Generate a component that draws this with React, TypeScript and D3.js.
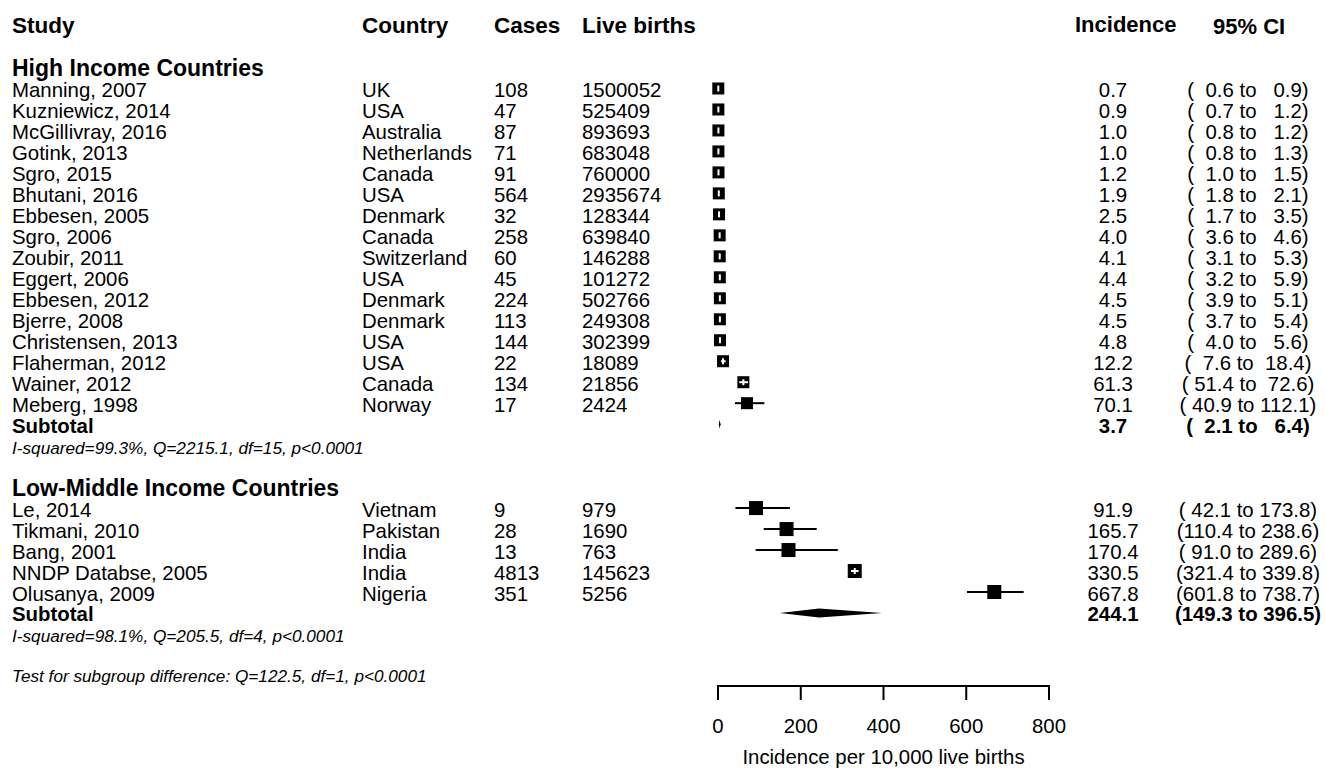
import React from "react";
import * as d3 from "d3";

// High income countries
const hicStudies = [
  "Manning, 2007", "Kuzniewicz, 2014", "McGillivray, 2016", "Gotink, 2013",
  "Sgro, 2015", "Bhutani, 2016", "Ebbesen, 2005", "Sgro, 2006",
  "Zoubir, 2011", "Eggert, 2006", "Ebbesen, 2012", "Bjerre, 2008",
  "Christensen, 2013", "Flaherman, 2012", "Wainer, 2012", "Meberg, 1998",
];
const hicCountries = [
  "UK", "USA", "Australia", "Netherlands", "Canada", "USA", "Denmark", "Canada",
  "Switzerland", "USA", "Denmark", "Denmark", "USA", "USA", "Canada", "Norway",
];
const hicCases = [108, 47, 87, 71, 91, 564, 32, 258, 60, 45, 224, 113, 144, 22, 134, 17];
const hicBirths = [
  1500052, 525409, 893693, 683048, 760000, 2935674, 128344, 639840,
  146288, 101272, 502766, 249308, 302399, 18089, 21856, 2424,
];
const hicIncidence = [0.7, 0.9, 1.0, 1.0, 1.2, 1.9, 2.5, 4.0, 4.1, 4.4, 4.5, 4.5, 4.8, 12.2, 61.3, 70.1];
const hicLower = [0.6, 0.7, 0.8, 0.8, 1.0, 1.8, 1.7, 3.6, 3.1, 3.2, 3.9, 3.7, 4.0, 7.6, 51.4, 40.9];
const hicUpper = [0.9, 1.2, 1.2, 1.3, 1.5, 2.1, 3.5, 4.6, 5.3, 5.9, 5.1, 5.4, 5.6, 18.4, 72.6, 112.1];
const hicSubtotal = [3.7, 2.1, 6.4];
const hicStats = "I-squared=99.3%, Q=2215.1, df=15, p<0.0001";

// Low-middle income countries
const lmicStudies = ["Le, 2014", "Tikmani, 2010", "Bang, 2001", "NNDP Databse, 2005", "Olusanya, 2009"];
const lmicCountries = ["Vietnam", "Pakistan", "India", "India", "Nigeria"];
const lmicCases = [9, 28, 13, 4813, 351];
const lmicBirths = [979, 1690, 763, 145623, 5256];
const lmicIncidence = [91.9, 165.7, 170.4, 330.5, 667.8];
const lmicLower = [42.1, 110.4, 91.0, 321.4, 601.8];
const lmicUpper = [173.8, 238.6, 289.6, 339.8, 738.7];
const lmicSubtotal = [244.1, 149.3, 396.5];
const lmicStats = "I-squared=98.1%, Q=205.5, df=4, p<0.0001";

const testText = "Test for subgroup difference: Q=122.5, df=1, p<0.0001";
const axisTicks = [0, 200, 400, 600, 800];
const axisTitle = "Incidence per 10,000 live births";

const FONT = "'Liberation Sans', Arial, Helvetica, sans-serif";
const fmt = d3.format(".1f");
const pad = (v: number) => fmt(v).padStart(5, " ");
const ciText = (lo: number, hi: number) => `(${pad(lo)} to ${pad(hi)})`;

const x = d3.scaleLinear().domain([0, 800]).range([718, 1049]);
const row = d3.scaleLinear().domain([0, 1]).range([76, 96.98]);

const col = { study: 12, country: 362, cases: 494, births: 582, inc: 1113, ci: 1248 };

function StudyRow({ i, study, country, cases, births, est, lo, hi, box }: any) {
  const base = row(i);
  const cy = base - 8.5;
  const cx = x(est);
  const half = box / 2;
  // CI drawn in white only when it fits inside the box
  const inside = x(lo) >= cx - half && x(hi) <= cx + half;
  return (
    <g>
      <text x={col.study} y={base}>{study}</text>
      <text x={col.country} y={base}>{country}</text>
      <text x={col.cases} y={base}>{cases}</text>
      <text x={col.births} y={base}>{births}</text>
      {!inside && <line x1={x(lo)} x2={x(hi)} y1={cy} y2={cy} stroke="#000" strokeWidth={2} />}
      <rect x={cx - half} y={cy - half} width={box} height={box} fill="#000" />
      {inside && (
        <g fill="#fff">
          <line x1={x(lo)} x2={x(hi)} y1={cy} y2={cy} stroke="#fff" strokeWidth={2} />
          <rect x={cx - 1} y={cy - 3} width={2} height={6} />
        </g>
      )}
      <text x={col.inc} y={base} textAnchor="middle">{fmt(est)}</text>
      <text x={col.ci} y={base} textAnchor="middle" xmlSpace="preserve" style={{ whiteSpace: "pre" }}>
        {ciText(lo, hi)}
      </text>
    </g>
  );
}

function Group({ start, title, studies, countries, cases, births, est, lower, upper, subtotal, stats, box }: any) {
  const subBase = row(start + studies.length + 1);
  const subY = subBase - 8.5;
  const [sEst, sLo, sHi] = subtotal;
  const diamond = [
    [x(sLo), subY], [x(sEst), subY - 4.5], [x(sHi), subY], [x(sEst), subY + 4.5],
  ].map((p) => p.join(",")).join(" ");
  return (
    <g>
      <text x={col.study} y={row(start)} fontWeight="bold" fontSize={23}>{title}</text>
      {studies.map((s: string, k: number) => (
        <StudyRow key={k} i={start + 1 + k} study={s} country={countries[k]} cases={cases[k]}
          births={births[k]} est={est[k]} lo={lower[k]} hi={upper[k]} box={box} />
      ))}
      <text x={col.study} y={subBase} fontWeight="bold">Subtotal</text>
      <polygon points={diamond} fill="#000" />
      <text x={col.inc} y={subBase} textAnchor="middle" fontWeight="bold">{fmt(sEst)}</text>
      <text x={col.ci} y={subBase} textAnchor="middle" fontWeight="bold" xmlSpace="preserve"
        style={{ whiteSpace: "pre" }}>{ciText(sLo, sHi)}</text>
      <text x={col.study} y={row(start + studies.length + 2)} fontStyle="italic" fontSize={17.2}>{stats}</text>
    </g>
  );
}

export default function App() {
  const axisY = 686;
  return (
    <div style={{ position: "absolute", left: 0, top: 0 }}>
      <svg width={1325} height={768} style={{ display: "block", background: "#fff" }}
        fontFamily={FONT} fontSize={20.4} fill="#000">
        <g fontWeight="bold" fontSize={22.5}>
          <text x={col.study} y={33}>Study</text>
          <text x={col.country} y={33}>Country</text>
          <text x={col.cases} y={33}>Cases</text>
          <text x={col.births} y={33}>Live births</text>
          <text x={1075} y={32} fontSize={22}>Incidence</text>
          <text x={1213} y={34} fontSize={22}>95% CI</text>
        </g>
        <Group start={0} title="High Income Countries" studies={hicStudies} countries={hicCountries}
          cases={hicCases} births={hicBirths} est={hicIncidence} lower={hicLower} upper={hicUpper}
          subtotal={hicSubtotal} stats={hicStats} box={12} />
        <Group start={20} title="Low-Middle Income Countries" studies={lmicStudies} countries={lmicCountries}
          cases={lmicCases} births={lmicBirths} est={lmicIncidence} lower={lmicLower} upper={lmicUpper}
          subtotal={lmicSubtotal} stats={lmicStats} box={14} />
        <text x={col.study} y={682} fontStyle="italic" fontSize={17.2}>{testText}</text>
        <g>
          <line x1={x(0)} x2={x(800)} y1={axisY} y2={axisY} stroke="#000" strokeWidth={2} strokeLinecap="square" />
          {axisTicks.map((t) => (
            <g key={t}>
              <line x1={x(t)} x2={x(t)} y1={axisY} y2={axisY + 14} stroke="#000" strokeWidth={2} />
              <text x={x(t)} y={733} textAnchor="middle">{t}</text>
            </g>
          ))}
          <text x={x(400)} y={764} textAnchor="middle">{axisTitle}</text>
        </g>
      </svg>
    </div>
  );
}
